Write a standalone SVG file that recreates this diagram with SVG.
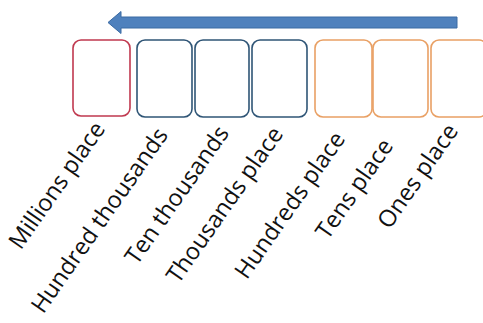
<svg xmlns="http://www.w3.org/2000/svg" width="483" height="323" viewBox="0 0 483 323">
<style>
.box{fill:#ffffff;stroke-width:1.6}
.red{stroke:#c0394f}
.blue{stroke:#2f5576}
.orange{stroke:#e9a064}
.lbl{font-family:"Open Sans","Liberation Sans",sans-serif;font-size:23.5px;fill:#111111;text-anchor:end}
</style>
<rect width="483" height="323" fill="#ffffff"/>
<g id="connectors">
<polygon points="457,17 121,17 121,11.5 108,22.5 121,33.5 121,28 457,28" fill="#4f81bd" stroke="#3a6aa3" stroke-width="1"/>
</g>
<g id="millions"><rect class="box red" x="73" y="40" width="57" height="76" rx="8"/><text class="lbl" transform="translate(106,129) rotate(-55)">Millions place</text></g>
<g id="hundred-thousands"><rect class="box blue" x="137" y="40" width="55" height="77" rx="8"/><text class="lbl" transform="translate(169,135) rotate(-55)">Hundred thousands</text></g>
<g id="ten-thousands"><rect class="box blue" x="195" y="40" width="54" height="77" rx="8"/><text class="lbl" transform="translate(230,133) rotate(-55)">Ten thousands</text></g>
<g id="thousands"><rect class="box blue" x="252" y="40" width="55" height="77" rx="8"/><text class="lbl" transform="translate(284,134) rotate(-55)">Thousands place</text></g>
<g id="hundreds"><rect class="box orange" x="315" y="40" width="57" height="77" rx="8"/><text class="lbl" transform="translate(346,139) rotate(-55)">Hundreds place</text></g>
<g id="tens"><rect class="box orange" x="373" y="40" width="55" height="77" rx="8"/><text class="lbl" transform="translate(394,146) rotate(-55)">Tens place</text></g>
<g id="ones"><rect class="box orange" x="431" y="40" width="56" height="77" rx="8"/><text class="lbl" transform="translate(459,131) rotate(-55)">Ones place</text></g>
</svg>
